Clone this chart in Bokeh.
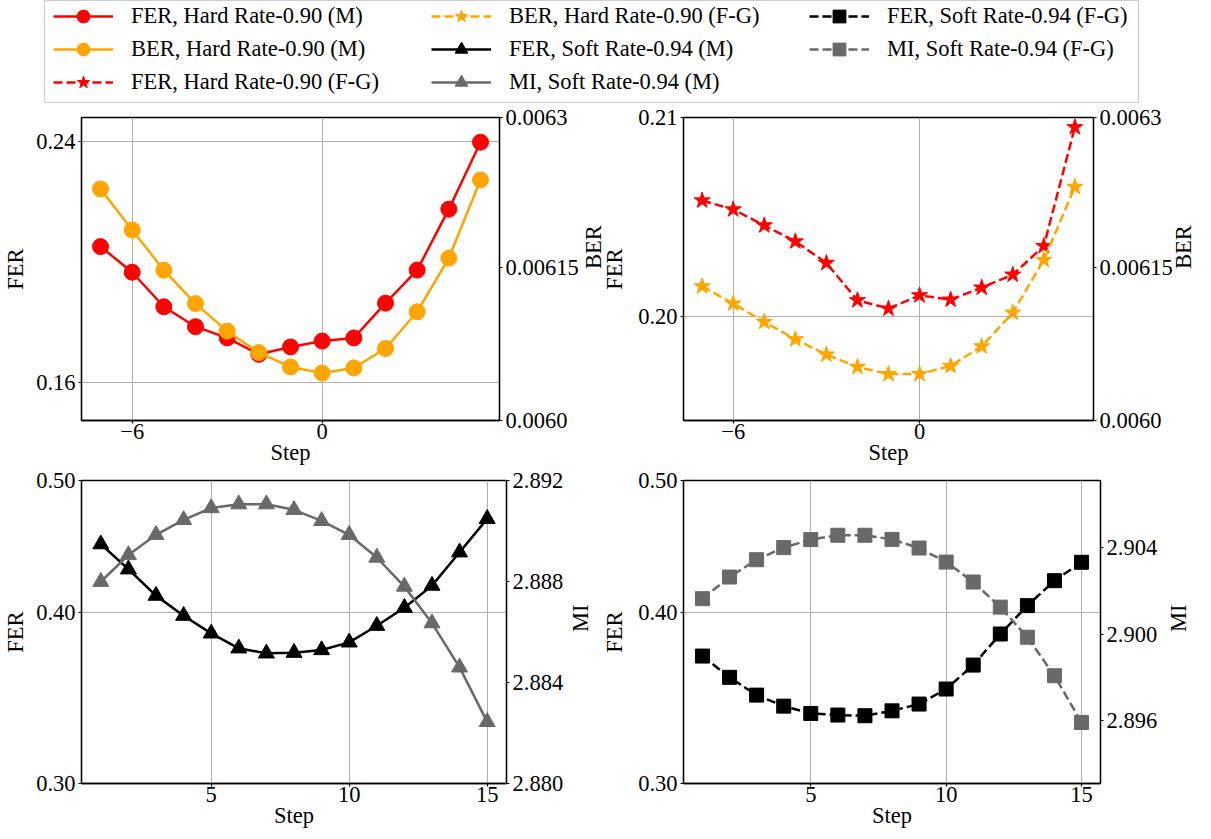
import math
from bokeh.plotting import figure
from bokeh.models import (Range1d, LogScale, LinearScale, LinearAxis, LogAxis, FixedTicker,
                          PrintfTickFormatter, Legend, LegendItem)
from bokeh.layouts import column, row
from bokeh.embed import file_html
from bokeh.resources import INLINE

FONT = "Liberation Serif"
FS = "22.5px"

# ---------------- data ----------------
steps_top = [-7, -6, -5, -4, -3, -2, -1, 0, 1, 2, 3, 4, 5]
steps_bot = [1, 2, 3, 4, 5, 6, 7, 8, 9, 10, 11, 12, 13, 14, 15]

fer_hard_m = [0.2011, 0.1926, 0.1817, 0.1757, 0.1724, 0.1677, 0.1698, 0.1715, 0.1724, 0.1828, 0.1933, 0.2142, 0.2398]
ber_hard_m = [0.006228, 0.006187, 0.006147, 0.006114, 0.006087, 0.006066, 0.006052, 0.006046, 0.006051, 0.006070, 0.006106, 0.006159, 0.006237]
fer_hard_fg = [0.20578, 0.20533, 0.20453, 0.20373, 0.20266, 0.20082, 0.20041, 0.20106, 0.20085, 0.20144, 0.20208, 0.20350, 0.20950]
ber_hard_fg = [0.006131, 0.006114, 0.006096, 0.006079, 0.006064, 0.006052, 0.006045, 0.006045, 0.006053, 0.006072, 0.006105, 0.006157, 0.006230]

fer_soft_m = [0.4491, 0.4305, 0.4118, 0.3981, 0.3864, 0.3768, 0.3736, 0.3740, 0.3757, 0.3806, 0.3914, 0.4035, 0.4188, 0.4430, 0.4687]
mi_soft_m = [2.88799, 2.88905, 2.88985, 2.89044, 2.89091, 2.89106, 2.89106, 2.89084, 2.89040, 2.88985, 2.88895, 2.88780, 2.88635, 2.88460, 2.88244]
fer_soft_fg = [0.3719, 0.3588, 0.3482, 0.3418, 0.3376, 0.3367, 0.3363, 0.3391, 0.3430, 0.3518, 0.3663, 0.3860, 0.4049, 0.4223, 0.4356]
mi_soft_fg = [2.90164, 2.90264, 2.90344, 2.90400, 2.90437, 2.90457, 2.90457, 2.90438, 2.90398, 2.90333, 2.90241, 2.90125, 2.89986, 2.89808, 2.89592]

labels = ["FER, Hard Rate-0.90 (M)", "BER, Hard Rate-0.90 (M)", "FER, Hard Rate-0.90 (F-G)",
          "BER, Hard Rate-0.90 (F-G)", "FER, Soft Rate-0.94 (M)", "MI, Soft Rate-0.94 (M)",
          "FER, Soft Rate-0.94 (F-G)", "MI, Soft Rate-0.94 (F-G)"]

x_ticks_top = [-6, 0]
x_ticks_bot = [5, 10, 15]
fer_ticks_tl = [0.16, 0.24]
fer_ticks_tr = [0.20, 0.21]
fer_ticks_bot = [0.30, 0.40, 0.50]
ber_ticks = [0.0060, 0.00615, 0.0063]
ber_tick_labels = ["0.0060", "0.00615", "0.0063"]
mi_ticks_bl = [2.880, 2.884, 2.888, 2.892]
mi_ticks_br = [2.896, 2.900, 2.904]

RED = "#ff0000"
ORANGE = "#ffa500"
BLACK = "#000000"
GRAY = "#696969"
DASH = "9 4"

# styles per series: (color, marker, size, dash)
styles = [
    (RED, "circle", 16, "solid"),
    (ORANGE, "circle", 16, "solid"),
    (RED, "star", 17, DASH),
    (ORANGE, "star", 17, DASH),
    (BLACK, "triangle", 16, "solid"),
    (GRAY, "triangle", 16, "solid"),
    (BLACK, "square", 14, DASH),
    (GRAY, "square", 14, DASH),
]
series_x = [steps_top, steps_top, steps_top, steps_top, steps_bot, steps_bot, steps_bot, steps_bot]
series_y = [fer_hard_m, ber_hard_m, fer_hard_fg, ber_hard_fg, fer_soft_m, mi_soft_m, fer_soft_fg, mi_soft_fg]

FRAME_H = 303


def style_axis(ax, ticks, fmt=None, overrides=None, label=None, standoff=0):
    ax.ticker = FixedTicker(ticks=ticks)
    if fmt is not None:
        ax.formatter = PrintfTickFormatter(format=fmt)
    if overrides is not None:
        ax.major_label_overrides = overrides
    ax.axis_line_color = "black"
    ax.axis_line_width = 1.3
    ax.major_tick_line_color = "black"
    ax.major_tick_line_width = 1.2
    ax.major_tick_in = 0
    ax.major_tick_out = 3
    ax.minor_tick_line_color = None
    ax.major_label_standoff = 3
    ax.major_label_text_font = FONT
    ax.major_label_text_font_size = FS
    ax.major_label_text_color = "black"
    if label is not None:
        ax.axis_label = label
        ax.axis_label_text_font = FONT
        ax.axis_label_text_font_size = FS
        ax.axis_label_text_font_style = "normal"
        ax.axis_label_text_color = "black"
        ax.axis_label_standoff = standoff


def panel(width, height, bl, br, bt, xr, xt, xover, yl, ylt, ylfmt, yl_so,
          yr, yr_log, yrt, yrfmt, yrover, yr_label, yr_so, left_series, right_series):
    p = figure(width=width, height=height, x_range=Range1d(*xr), y_range=Range1d(*yl),
               y_axis_type="log", output_backend="svg", toolbar_location=None,
               min_border=0, min_border_left=bl, min_border_right=br, min_border_top=bt,
               min_border_bottom=49)
    p.border_fill_alpha = 0
    p.extra_y_ranges = {"r": Range1d(*yr)}
    p.extra_y_scales = {"r": LogScale() if yr_log else LinearScale()}
    rax = LogAxis(y_range_name="r") if yr_log else LinearAxis(y_range_name="r")
    p.add_layout(rax, "right")

    xa = p.xaxis[0]
    style_axis(xa, xt, overrides=xover, label="Step", standoff=-2)
    xa.major_label_standoff = 0
    style_axis(p.yaxis[0], ylt, fmt=ylfmt, label="FER", standoff=yl_so)
    style_axis(rax, yrt, fmt=yrfmt, overrides=yrover, label=yr_label, standoff=yr_so)
    rax.axis_label_orientation = math.pi / 2
    rax.axis_label_text_baseline = "top"

    p.xgrid[0].ticker = FixedTicker(ticks=xt)
    p.ygrid[0].ticker = FixedTicker(ticks=ylt)
    for g in (p.xgrid[0], p.ygrid[0]):
        g.grid_line_color = "#b0b0b0"
        g.grid_line_width = 1.0

    p.outline_line_color = "black"
    p.outline_line_width = 1.3
    p.background_fill_color = "white"

    for xs, ys, st in left_series:
        c, m, s, d = st
        p.line(xs, ys, line_color=c, line_width=2.5, line_dash=d)
        p.scatter(xs, ys, marker=m, size=s, fill_color=c, line_color=c)
    for xs, ys, st in right_series:
        c, m, s, d = st
        p.line(xs, ys, line_color=c, line_width=2.5, line_dash=d, y_range_name="r")
        p.scatter(xs, ys, marker=m, size=s, fill_color=c, line_color=c, y_range_name="r")
    return p


x_over_top = {-6: "\u22126", 0: "0"}
ber_over = {t: l for t, l in zip(ber_ticks, ber_tick_labels)}

# left column: border 78 + frame 428 + border 115 ; right column starts 22 px earlier (overlap)
W_L = 78 + 428 + 115
OVERLAP = 22
W_R = 1211 - W_L + OVERLAP
BL_R = 78
BR_R = W_R - BL_R - 423
H_TOP = 13 + FRAME_H + 49
H_BOT = 11 + FRAME_H + 49

tl = panel(W_L, H_TOP, 78, 115, 13, (-7.6, 5.6), x_ticks_top, x_over_top,
           (0.15, 0.25), fer_ticks_tl, "%.2f", 5,
           (0.0060, 0.0063), True, ber_ticks, None, ber_over, "BER", 12,
           [(steps_top, fer_hard_m, styles[0])], [(steps_top, ber_hard_m, styles[1])])
tr = panel(W_R, H_TOP, BL_R, BR_R, 13, (-7.6, 5.6), x_ticks_top, x_over_top,
           (0.195, 0.21), fer_ticks_tr, "%.2f", 8,
           (0.0060, 0.0063), True, ber_ticks, None, ber_over, "BER", 8,
           [(steps_top, fer_hard_fg, styles[2])], [(steps_top, ber_hard_fg, styles[3])])
bl = panel(W_L, H_BOT, 78, 115, 11, (0.3, 15.7), x_ticks_bot, None,
           (0.30, 0.50), fer_ticks_bot, "%.2f", 5,
           (2.880, 2.892), False, mi_ticks_bl, "%.3f", None, "MI", 14,
           [(steps_bot, fer_soft_m, styles[4])], [(steps_bot, mi_soft_m, styles[5])])
br = panel(W_R, H_BOT, BL_R, BR_R, 11, (0.3, 15.7), x_ticks_bot, None,
           (0.30, 0.50), fer_ticks_bot, "%.2f", 8,
           (2.8931, 2.9071), False, mi_ticks_br, "%.3f", None, "MI", 18,
           [(steps_bot, fer_soft_fg, styles[6])], [(steps_bot, mi_soft_fg, styles[7])])
tr.margin = (0, 0, 0, -OVERLAP)
br.margin = (0, 0, 0, -OVERLAP)

# ---------------- legend figure ----------------
# ranges are placed far away from the data so the legend-only renderers stay hidden
lg = figure(width=1211, height=104, x_axis_type=None, y_axis_type=None,
            x_range=Range1d(1000, 1001), y_range=Range1d(1000, 1001),
            output_backend="svg", toolbar_location=None,
            min_border=0, min_border_left=44, min_border_right=73,
            min_border_top=0, min_border_bottom=2)
lg.outline_line_color = "#cccccc"
lg.outline_line_width = 1.2

items = []
for lab, st, xs, ys in zip(labels, styles, series_x, series_y):
    c, m, s, d = st
    r1 = lg.line(x=xs, y=ys, line_color=c, line_width=2.5, line_dash=d)
    r2 = lg.scatter(x=xs, y=ys, marker=m, size=s, fill_color=c, line_color=c)
    items.append(LegendItem(label=lab, renderers=[r1, r2]))

groups = [(items[0:3], 9, 4), (items[3:6], 387, 4), (items[6:8], 765, 37)]
for its, lx, ly in groups:
    leg = Legend(items=its, location=(lx, ly), orientation="vertical",
                 glyph_width=60, glyph_height=32, label_height=32, spacing=1,
                 label_standoff=18, padding=0, margin=0,
                 label_text_font=FONT, label_text_font_size=FS, label_text_color="black",
                 border_line_alpha=0, background_fill_alpha=0)
    lg.add_layout(leg)

layout = column(lg, row(tl, tr), row(bl, br))

with open("out.html", "w") as f:
    f.write(file_html(layout, INLINE))
